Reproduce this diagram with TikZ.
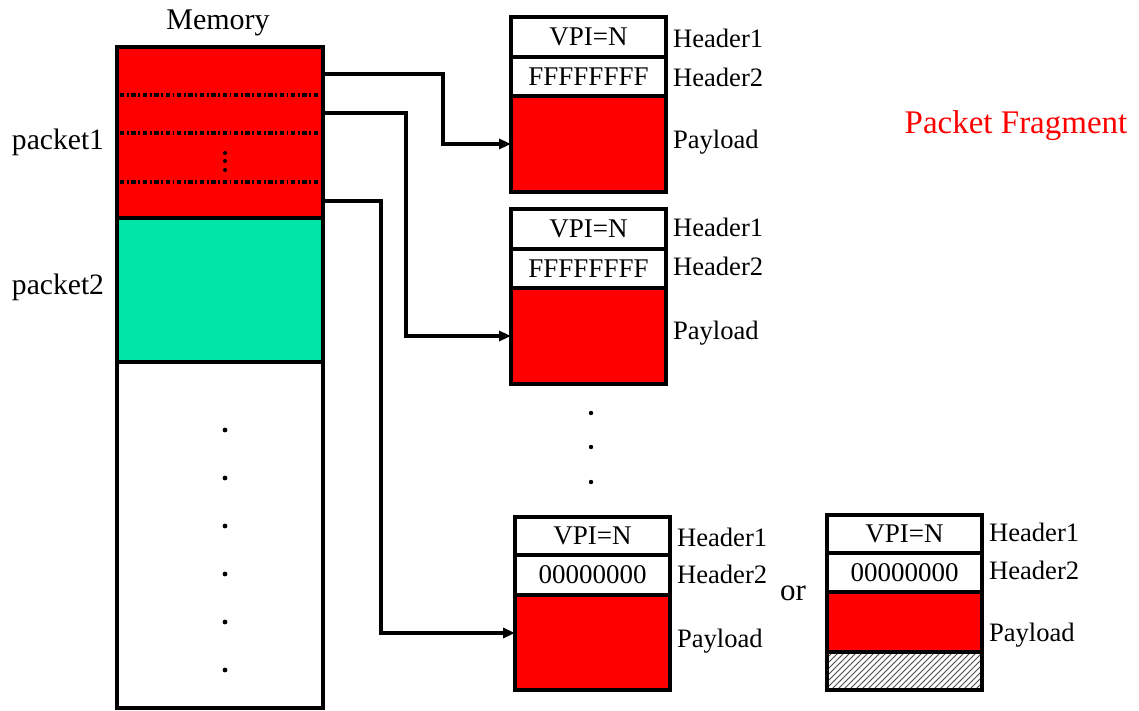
\documentclass[tikz,border=0pt]{standalone}
\usepackage{fontspec}
\setmainfont{Liberation Serif}
\usetikzlibrary{arrows.meta,patterns,positioning}
\definecolor{pktred}{RGB}{255,0,0}
\definecolor{pktgreen}{RGB}{0,228,168}
\tikzset{
  cell/.style={draw,line width=2pt,outer sep=0pt,inner sep=0pt,minimum width=77.5pt,anchor=north west,font=\fontsize{13.5}{15}\selectfont},
  hdr/.style={cell,fill=white},
  pay/.style={cell,fill=pktred},
  lbl/.style={right=0pt of #1,font=\fontsize{13.3}{15}\selectfont},
  conn/.style={line width=1.8pt,-{Triangle[length=6pt,width=5pt]}},
  sep/.style={line width=1.8pt,dash pattern=on 2.2pt off 1.3pt on 0.9pt off 1.3pt},
}
\begin{document}
\begin{tikzpicture}[x=0.5pt,y=-0.5pt]
  \useasboundingbox (0,0) rectangle (1139,711);
  % memory
  \node[cell,fill=pktred,minimum width=103pt,minimum height=85.5pt] (pkt1) at (117,47) {};
  \node[cell,fill=pktgreen,minimum width=103pt,minimum height=72pt,below=0pt of pkt1.south west,anchor=north west] (pkt2) {};
  \node[cell,fill=white,minimum width=103pt,minimum height=173pt,below=0pt of pkt2.south west,anchor=north west] (rest) {};
  \node[font=\fontsize{15}{17}\selectfont] (memtitle) at (218,23) {Memory};
  \node[font=\fontsize{14.8}{17}\selectfont] (p1lbl) at (58,142) {packet1};
  \node[font=\fontsize{14.8}{17}\selectfont] (p2lbl) at (58,287) {packet2};
  \draw[sep] (120,95) -- (319,95);
  \draw[sep] (120,133) -- (319,133);
  \draw[sep] (120,182) -- (319,182);
  \foreach \y in {153,161,170} \fill (225,\y) circle (1pt);
  \foreach \y in {430,478,...,671} \fill (225,\y) circle (1.2pt);
  % fragment 1
  \node[hdr,minimum height=20pt] (h1a) at (511,17) {VPI=N};
  \node[hdr,minimum height=19.5pt,below=0pt of h1a.south west,anchor=north west] (h2a) {FFFFFFFF};
  \node[pay,minimum height=48pt,below=0pt of h2a.south west,anchor=north west] (pay1) {};
  \node[lbl=h1a.east,yshift=-0.5pt] {Header1};
  \node[lbl=h2a.east,yshift=-0.5pt] {Header2};
  \node[lbl=pay1.east,yshift=1pt] {Payload};
  % fragment 2
  \node[hdr,minimum height=20pt] (h1b) at (511,209) {VPI=N};
  \node[hdr,minimum height=19.5pt,below=0pt of h1b.south west,anchor=north west] (h2b) {FFFFFFFF};
  \node[pay,minimum height=48pt,below=0pt of h2b.south west,anchor=north west] (pay2) {};
  \node[lbl=h1b.east,yshift=1pt] {Header1};
  \node[lbl=h2b.east,yshift=1pt] {Header2};
  \node[lbl=pay2.east,yshift=1.5pt] {Payload};
  \foreach \y in {413,447,482} \fill (591,\y) circle (1.1pt);
  % fragment 3
  \node[hdr,minimum height=19pt] (h1c) at (515,517) {VPI=N};
  \node[hdr,minimum height=20pt,below=0pt of h1c.south west,anchor=north west] (h2c) {00000000};
  \node[pay,minimum height=47.5pt,below=0pt of h2c.south west,anchor=north west] (pay3) {};
  \node[lbl=h1c.east,yshift=-0.5pt] {Header1};
  \node[lbl=h2c.east,yshift=0.5pt] {Header2};
  \node[lbl=pay3.east,yshift=0.5pt] {Payload};
  \node[font=\fontsize{15.5}{17}\selectfont] (or) at (793,593) {or};
  % fragment 4
  \node[hdr,minimum height=19pt] (h1d) at (827,515) {VPI=N};
  \node[hdr,minimum height=19.5pt,below=0pt of h1d.south west,anchor=north west] (h2d) {00000000};
  \node[pay,minimum height=30pt,below=0pt of h2d.south west,anchor=north west] (pay4) {};
  \node[cell,minimum height=19pt,pattern=north east lines,pattern color=black!70,below=0pt of pay4.south west,anchor=north west] (pad4) {};
  \node[lbl=h1d.east,yshift=1pt] {Header1};
  \node[lbl=h2d.east,yshift=1pt] {Header2};
  \node[lbl=pay4.east,yshift=-6.5pt] {Payload};
  \node[text=pktred,font=\fontsize{16.5}{18}\selectfont] (title) at (1016,126) {Packet Fragment};
  % connectors
  \coordinate (m1) at (323,74);
  \coordinate (m2) at (323,113);
  \coordinate (m3) at (323,201);
  \draw[conn] (m1) -- ++(60pt,0) |- (pay1.west);
  \draw[conn] (m2) -- ++(41.5pt,0) |- (pay2.west);
  \draw[conn] (m3) -- ++(29pt,0) |- ([yshift=4.75pt]pay3.west);
\end{tikzpicture}
\end{document}
